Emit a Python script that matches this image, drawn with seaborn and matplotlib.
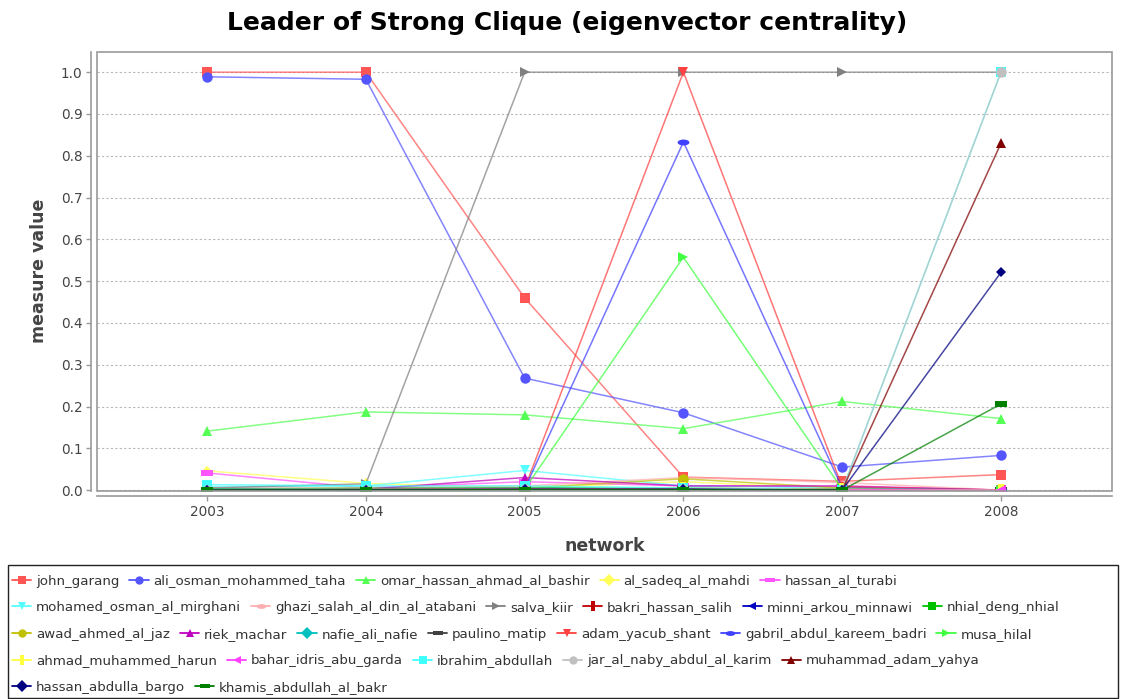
import numpy as np
import pandas as pd
import matplotlib
matplotlib.use("Agg")
import matplotlib.pyplot as plt
from matplotlib.lines import Line2D
from matplotlib.patches import Rectangle
import seaborn as sns

# ---------------------------------------------------------
# data
# ---------------------------------------------------------
years = [2003, 2004, 2005, 2006, 2007, 2008]

names = [
    "john_garang", "ali_osman_mohammed_taha", "omar_hassan_ahmad_al_bashir",
    "al_sadeq_al_mahdi", "hassan_al_turabi", "mohamed_osman_al_mirghani",
    "ghazi_salah_al_din_al_atabani", "salva_kiir", "bakri_hassan_salih",
    "minni_arkou_minnawi", "nhial_deng_nhial", "awad_ahmed_al_jaz",
    "riek_machar", "nafie_ali_nafie", "paulino_matip", "adam_yacub_shant",
    "gabril_abdul_kareem_badri", "musa_hilal", "ahmad_muhammed_harun",
    "bahar_idris_abu_garda", "ibrahim_abdullah", "jar_al_naby_abdul_al_karim",
    "muhammad_adam_yahya", "hassan_abdulla_bargo", "khamis_abdullah_al_bakr",
]

values = [
    [1.000, 1.000, 0.460, 0.031, 0.021, 0.037],   # john_garang
    [0.989, 0.983, 0.268, 0.185, 0.055, 0.083],   # ali_osman_mohammed_taha
    [0.141, 0.187, 0.180, 0.147, 0.212, 0.171],   # omar_hassan_ahmad_al_bashir
    [0.046, 0.016, 0.005, 0.020, 0.003, 0.000],   # al_sadeq_al_mahdi
    [0.041, 0.005, 0.020, 0.010, 0.008, 0.000],   # hassan_al_turabi
    [0.008, 0.010, 0.047, 0.010, 0.005, 0.000],   # mohamed_osman_al_mirghani
    [0.005, 0.005, 0.010, 0.030, 0.018, 0.000],   # ghazi_salah_al_din_al_atabani
    [0.005, 0.015, 1.000, 1.000, 1.000, 1.000],   # salva_kiir
    [0.002, 0.002, 0.004, 0.003, 0.002, 0.000],   # bakri_hassan_salih
    [0.001, 0.002, 0.003, 0.004, 0.002, 0.000],   # minni_arkou_minnawi
    [0.002, 0.003, 0.006, 0.004, 0.002, 0.000],   # nhial_deng_nhial
    [0.002, 0.005, 0.005, 0.027, 0.005, 0.000],   # awad_ahmed_al_jaz
    [0.001, 0.002, 0.030, 0.010, 0.010, 0.000],   # riek_machar
    [0.003, 0.004, 0.005, 0.004, 0.002, 0.000],   # nafie_ali_nafie
    [0.001, 0.002, 0.003, 0.002, 0.001, 0.000],   # paulino_matip
    [0.000, 0.001, 0.004, 1.000, 0.008, 0.000],   # adam_yacub_shant
    [0.000, 0.001, 0.003, 0.833, 0.005, 0.000],   # gabril_abdul_kareem_badri
    [0.000, 0.001, 0.002, 0.557, 0.002, 0.000],   # musa_hilal
    [0.001, 0.002, 0.003, 0.005, 0.002, 0.000],   # ahmad_muhammed_harun
    [0.000, 0.001, 0.002, 0.003, 0.001, 0.000],   # bahar_idris_abu_garda
    [0.013, 0.010, 0.010, 0.005, 0.000, 1.000],   # ibrahim_abdullah
    [0.000, 0.001, 0.002, 0.002, 0.000, 1.000],   # jar_al_naby_abdul_al_karim
    [0.000, 0.001, 0.002, 0.002, 0.000, 0.830],   # muhammad_adam_yahya
    [0.000, 0.001, 0.002, 0.002, 0.000, 0.521],   # hassan_abdulla_bargo
    [0.000, 0.000, 0.001, 0.001, 0.000, 0.206],   # khamis_abdullah_al_bakr
]

# JFreeChart style default paint sequence
colors = [
    "#FF5555", "#5555FF", "#55FF55", "#FFFF55", "#FF55FF", "#55FFFF",
    "#FFAFAF", "#808080", "#C00000", "#0000C0", "#00C000", "#C0C000",
    "#C000C0", "#00C0C0", "#404040", "#FF4040", "#4040FF", "#40FF40",
    "#FFFF40", "#FF40FF", "#40FFFF", "#C0C0C0", "#800000", "#000080",
    "#008000",
]

legend_rows = [5, 6, 7, 5, 2]

# ---------------------------------------------------------
# marker shapes (square, circle, up, diamond, h-rect, down, h-ellipse,
# right, v-rect, left) repeated
# ---------------------------------------------------------
t = np.linspace(0, 2 * np.pi, 40)
h_rect = [(-1, -0.5), (1, -0.5), (1, 0.5), (-1, 0.5), (-1, -0.5)]
v_rect = [(-0.5, -1), (0.5, -1), (0.5, 1), (-0.5, 1), (-0.5, -1)]
h_ell = list(zip(np.cos(t), 0.5 * np.sin(t)))
shape_cycle = ["s", "o", "^", "D", h_rect, "v", h_ell, ">", v_rect, "<"]
marker_map = {n: shape_cycle[i % 10] for i, n in enumerate(names)}
size_map = {"s": 6.5, "o": 7.5, "^": 7.5, "D": 5.5, "v": 7.5, ">": 7.5, "<": 7.5}

df = pd.DataFrame(
    [(n, y, v) for n, row in zip(names, values) for y, v in zip(years, row)],
    columns=["name", "year", "value"],
)

# ---------------------------------------------------------
# plot
# ---------------------------------------------------------
sns.set_theme(style="white")
plt.rcParams["font.family"] = ["DejaVu Sans"]

fig = plt.figure(figsize=(11.27, 6.99), dpi=100)
ax = fig.add_axes([97 / 1127, 1 - 490.5 / 699, (1112 - 97) / 1127, (490.5 - 51.7) / 699])

sns.lineplot(
    data=df, x="year", y="value", hue="name", style="name",
    hue_order=names, style_order=names, palette=dict(zip(names, colors)),
    markers=marker_map, dashes=False, linewidth=1.1, legend=False, ax=ax,
    estimator=None, sort=False,
)

for ln, n, c in zip(ax.lines, names, colors):
    m = marker_map[n]
    ln.set_color(matplotlib.colors.to_rgba(c, 0.72))
    ln.set_markerfacecolor(c)
    ln.set_markeredgecolor(c)
    ln.set_markeredgewidth(0)
    ln.set_markersize(size_map.get(m, 8) if isinstance(m, str) else 8.5)

ax.set_xlim(2002.307, 2008.699)
ax.set_ylim(-0.001, 1.049)
ax.set_xticks(years)
ax.set_yticks(np.arange(0, 1.01, 0.1))
ax.set_yticklabels([f"{v:.1f}" for v in np.arange(0, 1.01, 0.1)])
ax.yaxis.grid(True, color="#b8b8b8", linestyle=(0, (2, 2)), linewidth=0.8)
ax.xaxis.grid(False)
ax.set_axisbelow(True)

for s in ["top", "right"]:
    ax.spines[s].set_visible(False)
for s in ["left", "bottom"]:
    ax.spines[s].set_position(("outward", 4))
    ax.spines[s].set_color("#999999")
    ax.spines[s].set_linewidth(1.2)
ax.add_patch(Rectangle((0, 0), 1, 1, transform=ax.transAxes, fill=False,
                       ec="#999999", lw=1.2, clip_on=False, zorder=5))
ax.tick_params(axis="both", which="both", direction="out", length=3.5,
               width=1, color="#999999", labelsize=9.8, labelcolor="#444444",
               left=True, bottom=True, pad=3)

ax.set_xlabel("network", fontsize=12.5, fontweight="bold", color="#444444", labelpad=13)
ax.set_ylabel("measure value", fontsize=12.5, fontweight="bold", color="#444444", labelpad=9)
fig.text(0.503, 1 - 23 / 699, "Leader of Strong Clique (eigenvector centrality)",
         ha="center", va="center", fontsize=18, fontweight="bold", color="black")

# ---------------------------------------------------------
# legend (flow layout, one legend per row)
# ---------------------------------------------------------
fig.add_artist(Rectangle((8 / 1127, 1 - 698 / 699), (1118 - 8) / 1127, (698 - 565) / 699,
                         transform=fig.transFigure, fill=False, ec="#222222", lw=1))
handles = []
for n, c in zip(names, colors):
    m = marker_map[n]
    ms = 6 if isinstance(m, str) else 7
    handles.append(Line2D([], [], color=c, marker=m, markersize=ms,
                          markeredgewidth=0, linewidth=1.3))
start = 0
for r, cnt in enumerate(legend_rows):
    yc = 581 + r * 26.6
    fig.legend(handles[start:start + cnt], names[start:start + cnt],
               loc="center left", bbox_to_anchor=(12 / 1127, 1 - yc / 699),
               ncol=cnt, frameon=False, fontsize=9.6, handlelength=1.45,
               handletextpad=0.35, columnspacing=0.75, borderpad=0,
               borderaxespad=0, labelcolor="#333333")
    start += cnt

fig.savefig("out.png", dpi=100)
